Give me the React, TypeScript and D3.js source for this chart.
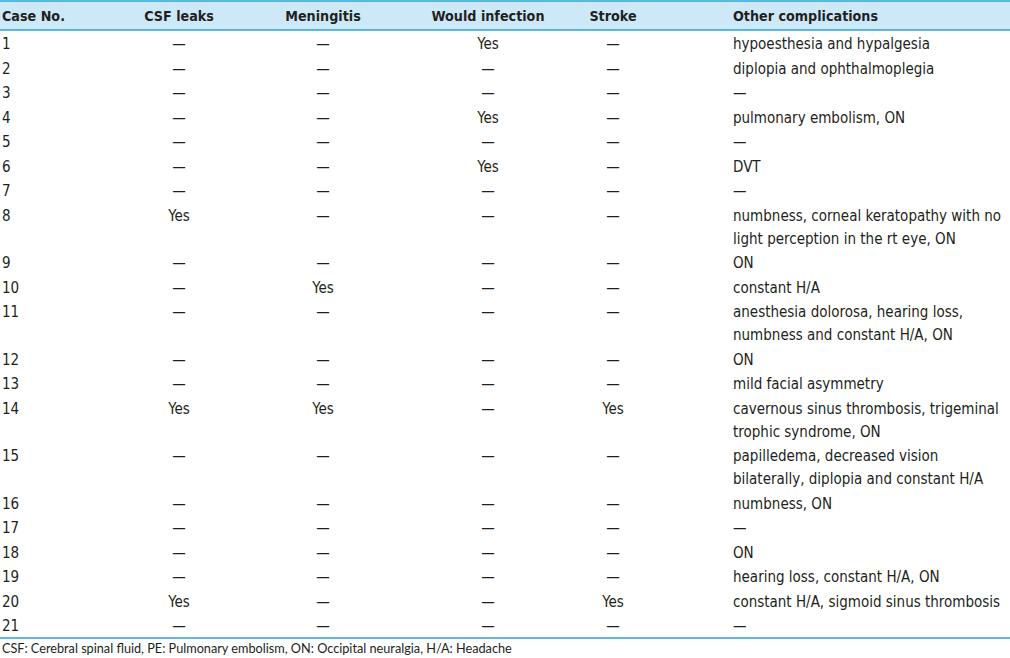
import React from "react";
import * as d3 from "d3";

const headers = ["Case No.", "CSF leaks", "Meningitis", "Would infection", "Stroke", "Other complications"];
const caseNo = d3.range(1, 22).map(String);
const csfLeaks = ["", "", "", "", "", "", "", "Yes", "", "", "", "", "", "Yes", "", "", "", "", "", "Yes", ""];
const meningitis = ["", "", "", "", "", "", "", "", "", "Yes", "", "", "", "Yes", "", "", "", "", "", "", ""];
const woundInfection = ["Yes", "", "", "Yes", "", "Yes", "", "", "", "", "", "", "", "", "", "", "", "", "", "", ""];
const stroke = ["", "", "", "", "", "", "", "", "", "", "", "", "", "Yes", "", "", "", "", "", "Yes", ""];
const other: string[][] = [
  ["hypoesthesia and hypalgesia"],
  ["diplopia and ophthalmoplegia"],
  [""],
  ["pulmonary embolism, ON"],
  [""],
  ["DVT"],
  [""],
  ["numbness, corneal keratopathy with no", "light perception in the rt eye, ON"],
  ["ON"],
  ["constant H/A"],
  ["anesthesia dolorosa, hearing loss,", "numbness and constant H/A, ON"],
  ["ON"],
  ["mild facial asymmetry"],
  ["cavernous sinus thrombosis, trigeminal", "trophic syndrome, ON"],
  ["papilledema, decreased vision", "bilaterally, diplopia and constant H/A"],
  ["numbness, ON"],
  [""],
  ["ON"],
  ["hearing loss, constant H/A, ON"],
  ["constant H/A, sigmoid sinus thrombosis"],
  [""],
];
const footnote = "CSF: Cerebral spinal fluid, PE: Pulmonary embolism, ON: Occipital neuralgia, H/A: Headache";

const W = 1010;
const H = 658;
const FONT = "'Liberation Sans Narrow', 'DejaVu Sans Condensed', 'Roboto', sans-serif";
const BLUE = "#2aa3d6";

export default function App() {
  const centerCols = [csfLeaks, meningitis, woundInfection, stroke];
  const x = d3.scaleOrdinal<number, number>().domain([1, 2, 3, 4]).range([179, 323, 488, 613]);
  const rowGap = 24.5;
  const lineGap = 23;
  const extra = other.map((o) => o.length - 1);
  const starts = [0, ...Array.from(d3.cumsum(extra))].slice(0, 21);
  const fontSize = 15;
  return (
    <svg width={W} height={H} style={{ position: "absolute", left: 0, top: 0 }}>
      <rect x={0} y={0} width={W} height={H} fill="#fff" />
      <rect x={0} y={1} width={W} height={29} fill="#cde9f8" />
      <line x1={0} x2={W} y1={1} y2={1} stroke={BLUE} strokeWidth={1.5} />
      <line x1={0} x2={W} y1={30} y2={30} stroke={BLUE} strokeWidth={1.5} />
      <line x1={0} x2={W} y1={638} y2={638} stroke={BLUE} strokeWidth={1.5} />
      <g fontFamily={FONT} fontSize={14.2} fontWeight="bold" fill="#231f20">
        <text x={2} y={16} dominantBaseline="central">{headers[0]}</text>
        {[1, 2, 3, 4].map((c) => (
          <text key={c} x={x(c)} y={16} textAnchor="middle" dominantBaseline="central">{headers[c]}</text>
        ))}
        <text x={733} y={16} dominantBaseline="central">{headers[5]}</text>
      </g>
      <g fontFamily={FONT} fontSize={fontSize} fill="#231f20">
        {caseNo.map((c, i) => {
          const base = 44 + i * rowGap + starts[i] * lineGap;
          return (
            <g key={c}>
              <text x={2} y={base} dominantBaseline="central">{c}</text>
              {centerCols.map((col, k) => (
                <text key={k} x={x(k + 1)} y={base} textAnchor="middle" dominantBaseline="central">
                  {col[i] || "—"}
                </text>
              ))}
              {other[i].map((ln, j) => (
                <text key={j} x={733} y={base + j * lineGap} dominantBaseline="central">
                  {ln || "—"}
                </text>
              ))}
            </g>
          );
        })}
      </g>
      <text x={2} y={648} dominantBaseline="central" fontFamily="'Lato', 'Open Sans', sans-serif" fontSize={12.7} fill="#231f20">
        {footnote}
      </text>
    </svg>
  );
}
